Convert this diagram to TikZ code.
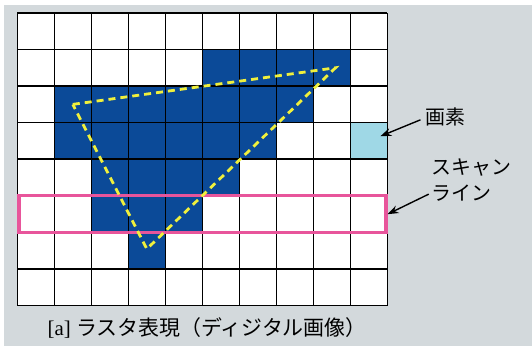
\documentclass[tikz,border=0pt]{standalone}
\usepackage{fontspec}
\setmainfont{Liberation Serif}
\newfontfamily\jpfont{Noto Sans CJK JP}
\usetikzlibrary{calc}
\usetikzlibrary{arrows.meta}
\definecolor{bggray}{HTML}{D3D9DC}
\definecolor{dblue}{HTML}{0B4A98}
\definecolor{lblue}{HTML}{9FD8E6}
\definecolor{scanpink}{HTML}{E8559B}
\definecolor{lineyellow}{HTML}{F0F03C}
\tikzset{
  filledcell/.style={fill=dblue},
  pointer/.style={-{Stealth[length=11pt,width=8pt]},line width=1.4pt},
  labeltext/.style={font=\jpfont\fontsize{20}{26}\selectfont,inner sep=0pt},
}

\begin{document}
\begin{tikzpicture}[x=37bp,y=36.6bp]
\useasboundingbox (-0.468,-1.101) rectangle (13.91,8.352);
\fill[white] (-0.468,-1.101) rectangle (13.91,8.352);
\fill[bggray] (-0.36,-1.101) rectangle (13.91,8.216);
\fill[white] (0,0) rectangle (10,8);

% pixels covered by the triangle
\fill[filledcell] (5,6) rectangle (9,7);
\fill[filledcell] (1,5) rectangle (8,6);
\fill[filledcell] (1,4) rectangle (7,5);
\fill[filledcell] (2,3) rectangle (6,4);
\fill[filledcell] (2,2) rectangle (5,3);
\fill[filledcell] (3,1) rectangle (4,2);
\node[fill=lblue,minimum width=37bp,minimum height=36.6bp,inner sep=0pt] (pixel) at (9.5,4.5) {};

\draw[line width=1.6pt] (0,0) grid[step={(1,1)}] (10,8);

\node[draw=scanpink,line width=3.5pt,minimum width=367bp,minimum height=37bp,inner sep=0pt] (scanline) at (5,2.5) {};

\draw[lineyellow,dash pattern=on 7bp off 5bp,line width=2.8bp] (1.5,5.5) -- (8.6,6.5) -- (3.5,1.55) -- cycle;

\node[labeltext,anchor=west] (pixellabel) at (11.03,5.16) {画素};
\node[labeltext,anchor=west,align=left] (scanlabel) at (11.2,3.43) {スキャン\\ライン};
  \draw[pointer,shorten >=12.5bp] ([xshift=-5bp,yshift=-3bp]pixellabel.west) -- (pixel.center);
  \draw[pointer] ([xshift=-3bp,yshift=-14bp]scanlabel.west) -- (scanline.east);

\node[font=\fontsize{21}{24}\selectfont] (caption) at (5.13,-0.61) {[a] {\jpfont ラスタ表現（ディジタル画像）}};
\end{tikzpicture}
\end{document}
